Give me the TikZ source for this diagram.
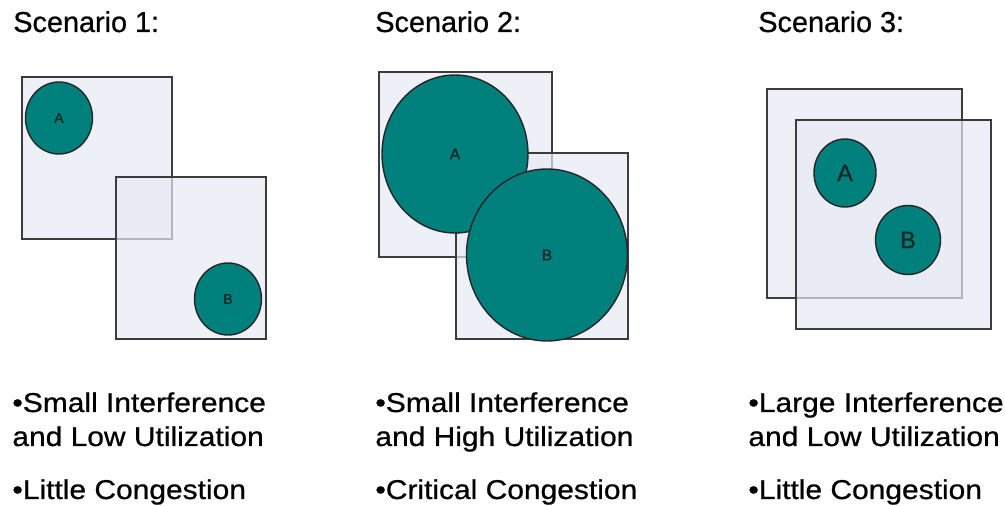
\documentclass[tikz,border=0pt]{standalone}
\usepackage{fontspec}
\setmainfont{Liberation Sans}
\newfontfamily\heavysans{Liberation Sans}[FakeBold=0.7]
\usetikzlibrary{shapes.geometric}
\definecolor{boxfill}{RGB}{238,240,248}
\definecolor{boxtint}{RGB}{231,234,245}
\definecolor{boxline}{RGB}{60,60,60}
\definecolor{teal}{RGB}{0,128,124}
\definecolor{letter}{RGB}{20,40,40}
\begin{document}
\begin{tikzpicture}[x=0.02cm,y=-0.02cm,
  backbox/.style={draw=boxline,line width=1.1pt,fill=boxfill},
  frontbox/.style={draw=boxline,line width=1.1pt,fill=boxtint,fill opacity=0.7,draw opacity=1},
  disk/.style={ellipse,draw=black!85,line width=0.8pt,fill=teal,inner sep=0pt,outer sep=0pt,text=letter},
  title/.style={anchor=base west,inner sep=0pt,font=\heavysans\fontsize{16.4}{19}\selectfont},
  note/.style={anchor=base west,inner sep=0pt,xscale=1.1,font=\heavysans\fontsize{15.5}{18}\selectfont},
  smallletter/.style={font=\heavysans\fontsize{8}{9}\selectfont},
  midletter/.style={font=\heavysans\fontsize{9}{10}\selectfont},
  bigletter/.style={font=\heavysans\fontsize{13.5}{15}\selectfont}]
\useasboundingbox (0,0) rectangle (1005,506);

% Scenario 1
\node[title] (t1) at (13,32) {Scenario 1:};
\draw[backbox] (22,77) rectangle (172,239);
\draw[frontbox] (116,177) rectangle (266,339);
\node[disk,smallletter,minimum width=1.34cm,minimum height=1.44cm] (a1) at (59,118) {A};
\node[disk,smallletter,minimum width=1.34cm,minimum height=1.44cm] (b1) at (228,299) {B};
\node[note] (n1a) at (12,412) {•Small Interference};
\node[note] (n1b) at (12,446) {and Low Utilization};
\node[note] (n1c) at (12,499) {•Little Congestion};

% Scenario 2
\node[title] (t2) at (375,32) {Scenario 2:};
\draw[backbox] (379,72) rectangle (552,257);
\draw[frontbox] (456,153) rectangle (628,339);
\node[disk,midletter,minimum width=2.92cm,minimum height=3.16cm] (a2) at (455,154) {A};
\node[disk,midletter,minimum width=3.22cm,minimum height=3.44cm] (b2) at (547,255) {B};
\node[note] (n2a) at (375,412) {•Small Interference};
\node[note] (n2b) at (375,446) {and High Utilization};
\node[note] (n2c) at (375,499) {•Critical Congestion};

% Scenario 3
\node[title] (t3) at (758,32) {Scenario 3:};
\draw[backbox] (767,89) rectangle (962,298);
\draw[frontbox] (796,120) rectangle (991,329);
\node[disk,bigletter,minimum width=1.24cm,minimum height=1.36cm] (a3) at (845,173) {A};
\node[disk,bigletter,minimum width=1.30cm,minimum height=1.38cm] (b3) at (908,240) {B};
\node[note] (n3a) at (748,412) {•Large Interference};
\node[note] (n3b) at (748,446) {and Low Utilization};
\node[note] (n3c) at (748,499) {•Little Congestion};
\end{tikzpicture}
\end{document}
